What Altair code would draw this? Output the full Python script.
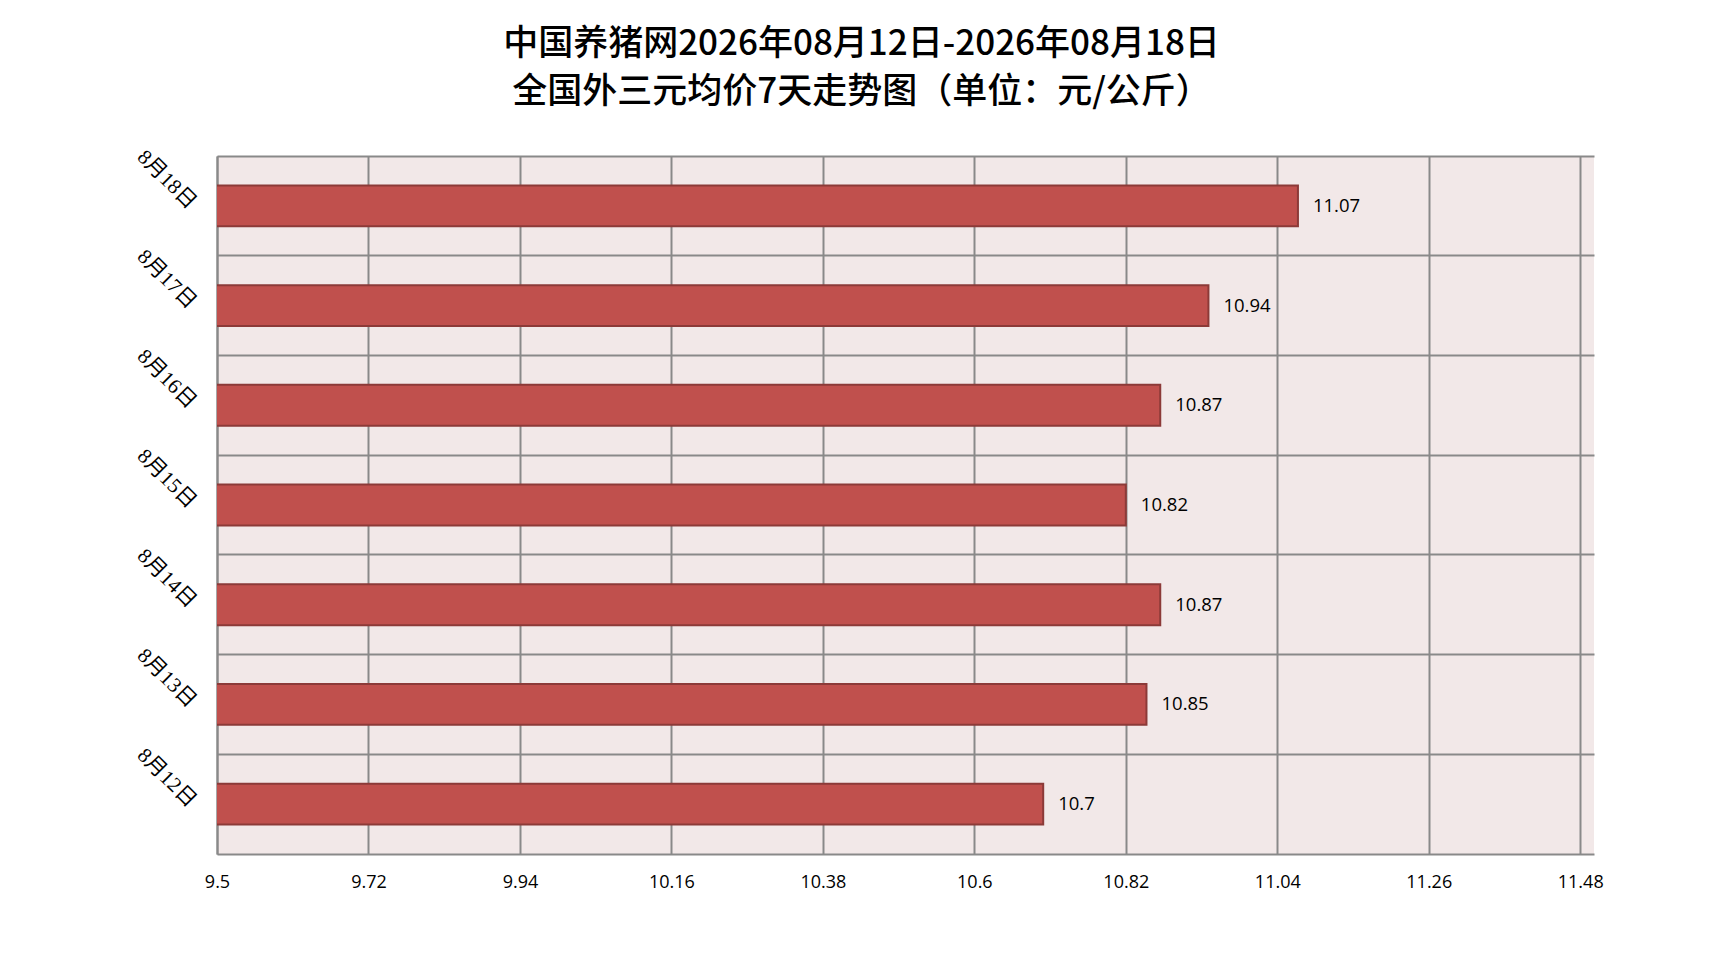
import altair as alt
import pandas as pd

dates = ["8月18日", "8月17日", "8月16日", "8月15日", "8月14日", "8月13日", "8月12日"]
prices = [11.07, 10.94, 10.87, 10.82, 10.87, 10.85, 10.7]
x_ticks = [9.5, 9.72, 9.94, 10.16, 10.38, 10.6, 10.82, 11.04, 11.26, 11.48]
x_domain = [9.5, 11.5]
title_lines = ["中国养猪网2026年08月12日-2026年08月18日",
               "全国外三元均价7天走势图（单位：元/公斤）"]

df = pd.DataFrame({"date": dates, "price": prices})

GRID = "#898989"

base = alt.Chart(df).encode(
    y=alt.Y(
        "date:N",
        sort=dates,
        scale=alt.Scale(paddingInner=0, paddingOuter=0),
        axis=alt.Axis(
            title=None, labelAngle=45, labelAlign="right", labelBaseline="middle",
            labelPadding=25, labelFont="Liberation Serif, Noto Sans CJK SC",
            labelFontSize=21, labelColor="black", ticks=False,
            domainColor=GRID, domainWidth=2, grid=True, gridColor=GRID,
            gridWidth=2, bandPosition=0,
        ),
    ),
    x=alt.X(
        "price:Q",
        scale=alt.Scale(domain=x_domain, zero=False, nice=False),
        axis=alt.Axis(
            title=None, values=x_ticks, format=".4~g", grid=True, gridColor=GRID,
            gridWidth=2, ticks=False, labelPadding=19, labelFontSize=18,
            labelFont="Open Sans", labelColor="black", domainColor=GRID,
            domainWidth=2, labelFlush=False, labelOverlap=False,
        ),
    ),
)

bars = base.mark_bar(
    height={"band": 0.41}, color="#C0504D", stroke="#8C3A38", strokeWidth=2, clip=True
)
text = base.mark_text(
    align="left", dx=15, baseline="middle", font="Open Sans", fontSize=18.5, color="black"
).encode(text=alt.Text("price:Q", format=".4~g"))

chart = (
    alt.layer(bars, text)
    .properties(
        width=1377,
        height=698,
        autosize=alt.AutoSizeParams(type="none"),
        padding={"left": 209, "top": 148, "right": 122, "bottom": 92},
        view=alt.ViewBackground(fill="#F2E8E8", stroke="transparent", strokeWidth=0),
        title=alt.TitleParams(
            text=title_lines, fontSize=35, font="Noto Sans CJK SC", fontWeight=500,
            lineHeight=48, anchor="middle", dx=-44, offset=36, color="black",
        ),
    )
    .configure_view(strokeWidth=0, stroke="transparent")
    .configure(background="white")
)

chart.save("out.html", embed_options={"renderer": "svg", "actions": False})
